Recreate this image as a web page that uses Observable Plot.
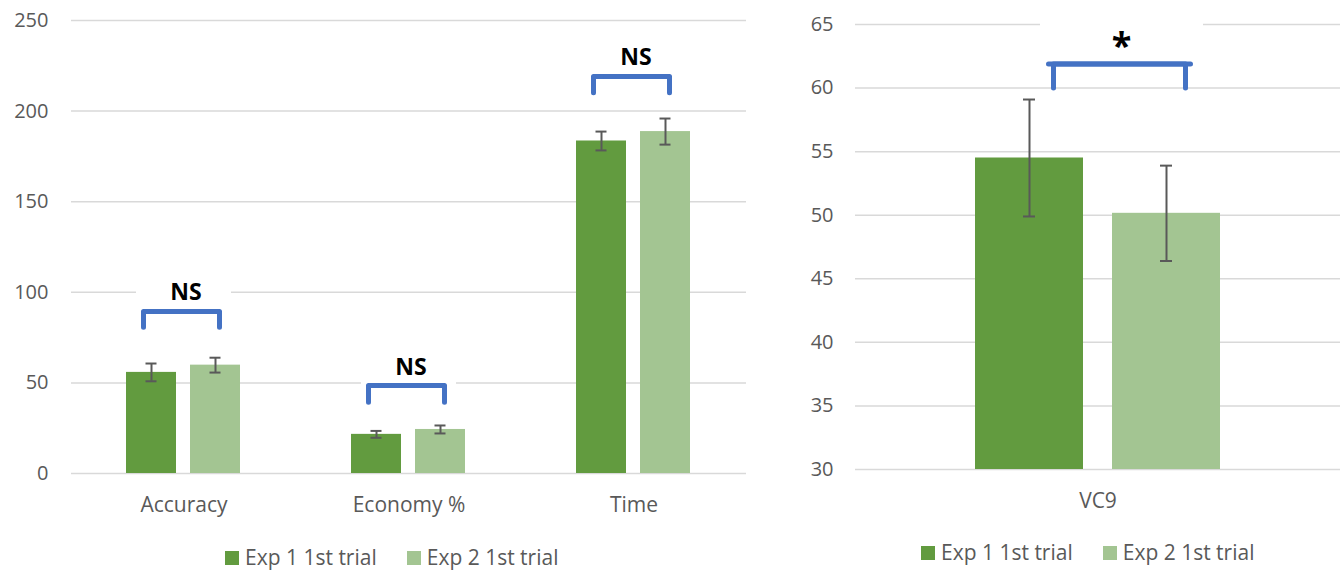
<!DOCTYPE html>
<html><head><meta charset="utf-8">
<script src="https://cdn.jsdelivr.net/npm/d3@7"></script>
<script src="https://cdn.jsdelivr.net/npm/@observablehq/plot@0.6"></script>
<style>
body{margin:0;background:#fff;font-family:"Open Sans",sans-serif;}
#root{position:relative;width:1344px;height:572px;overflow:hidden;background:#fff;}
.panel{position:absolute;top:0;}
.legend{position:absolute;display:flex;align-items:center;font-size:21px;line-height:21px;color:#595959;white-space:nowrap;font-family:"Open Sans",sans-serif;}
.legend .item{display:flex;align-items:center;margin-right:30px;}
.legend .sw{width:14px;height:14px;margin-right:6px;}
</style></head><body><div id="root"></div>
<script>
// ---------- data ----------
const series = ["Exp 1 1st trial", "Exp 2 1st trial"];
const seriesColors = ["#629B3F", "#A3C592"];

const leftCategories = ["Accuracy", "Economy %", "Time"];
const leftExp1 = [55.8, 21.6, 183.5];
const leftExp2 = [59.8, 24.3, 188.7];
const leftErr1 = [4.9, 1.9, 5.2];
const leftErr2 = [4.1, 2.2, 7.2];
const leftTicks = [0, 50, 100, 150, 200, 250];
const leftSigText = ["NS", "NS", "NS"];
const leftSigY = [99.6, 58.2, 229.3];
const leftBracketTop = [89.4, 48.6, 219.1];
const leftBracketBottom = [80.7, 39.3, 210.1];

const rightCategories = ["VC9"];
const rightExp1 = [54.5];
const rightExp2 = [50.15];
const rightErr1 = [4.6];
const rightErr2 = [3.75];
const rightTicks = [30, 35, 40, 45, 50, 55, 60, 65];
const rightSigText = ["*"];
const rightSigY = [63.3];
const rightBracketTop = [61.9];
const rightBracketBottom = [60.0];

// ---------- helpers ----------
function rowsOf(cats, v1, v2, e1, e2) {
  const out = [];
  cats.forEach((c, i) => {
    out.push({category: c, series: series[0], value: v1[i], err: e1[i]});
    out.push({category: c, series: series[1], value: v2[i], err: e2[i]});
  });
  return out;
}
function bracketHalves(cats, top, bottom) {
  const left = [], right = [];
  cats.forEach((c, i) => {
    left.push({category: c, series: series[0], y: bottom[i]});
    left.push({category: c, series: series[0], y: top[i]});
    left.push({category: c, series: series[1], y: top[i]});
    right.push({category: c, series: series[0], y: top[i]});
    right.push({category: c, series: series[1], y: top[i]});
    right.push({category: c, series: series[1], y: bottom[i]});
  });
  return {left, right};
}
function labelsOf(cats, texts, ys) {
  return cats.map((c, i) => ({category: c, text: texts[i], y: ys[i]}));
}

function panel(cfg) {
  const rows = rowsOf(cfg.cats, cfg.v1, cfg.v2, cfg.e1, cfg.e2);
  const br = bracketHalves(cfg.cats, cfg.bTop, cfg.bBottom);
  const labels = labelsOf(cfg.cats, cfg.sigText, cfg.sigY);
  const grey = "#595959";
  return Plot.plot({
    width: cfg.width, height: cfg.height,
    marginLeft: cfg.ml, marginRight: cfg.mr, marginTop: cfg.mt, marginBottom: cfg.mb,
    style: {fontFamily: "Open Sans, sans-serif", background: "transparent", overflow: "visible"},
    fx: {domain: cfg.cats, padding: 0, label: null},
    x: {domain: series, paddingInner: cfg.pi, paddingOuter: cfg.po, axis: null},
    y: {domain: cfg.yDomain, label: null},
    color: {domain: series, range: seriesColors},
    marks: [
      Plot.ruleY(cfg.ticks, {stroke: "#d9d9d9", strokeWidth: 1.5}),
      Plot.tickY(labels, {fx: "category", y: "y", stroke: "white", strokeWidth: 56,
        insetLeft: cfg.boxL, insetRight: cfg.boxR}),
      Plot.barY(rows, {fx: "category", x: "series", y1: cfg.yDomain[0], y2: "value", fill: "series"}),
      Plot.ruleX(rows, {fx: "category", x: "series", y1: d => d.value - d.err, y2: d => d.value + d.err,
        stroke: grey, strokeWidth: 2}),
      Plot.tickY(rows, {fx: "category", x: "series", y: d => d.value + d.err, stroke: grey, strokeWidth: 2,
        insetLeft: cfg.capInset, insetRight: cfg.capInset}),
      Plot.tickY(rows, {fx: "category", x: "series", y: d => d.value - d.err, stroke: grey, strokeWidth: 2,
        insetLeft: cfg.capInset, insetRight: cfg.capInset}),
      Plot.line(br.left, {fx: "category", x: "series", y: "y", z: "category", stroke: "#4472C4",
        strokeWidth: 5, strokeLinejoin: "round", dx: cfg.bdxL}),
      Plot.line(br.right, {fx: "category", x: "series", y: "y", z: "category", stroke: "#4472C4",
        strokeWidth: 5, strokeLinejoin: "round", dx: cfg.bdxR}),
      Plot.text(labels, {fx: "category", y: "y", text: "text", fill: "black", fontWeight: "bold",
        fontSize: cfg.sigSize, dx: cfg.sigDx, lineAnchor: "middle"}),
      Plot.axisY(cfg.ticks, {tickSize: 0, tickPadding: cfg.yPad, fontSize: 20, color: grey, label: null}),
      Plot.axisFx({anchor: "bottom", tickSize: 0, tickPadding: 24, fontSize: 21, color: grey, label: null})
    ]
  });
}

const root = document.getElementById("root");

function addPanel(el, left) {
  const wrap = document.createElement("div");
  wrap.className = "panel";
  wrap.style.left = left + "px";
  wrap.appendChild(el);
  root.appendChild(wrap);
}

addPanel(panel({
  cats: leftCategories, v1: leftExp1, v2: leftExp2, e1: leftErr1, e2: leftErr2,
  ticks: leftTicks, yDomain: [0, 250], sigText: leftSigText, sigY: leftSigY,
  bTop: leftBracketTop, bBottom: leftBracketBottom,
  width: 770, height: 525, ml: 70, mr: 23, mt: 20, mb: 52,
  pi: 0.215, po: 0.843, capInset: 19.5, boxL: 65, boxR: 65,
  bdxL: -8, bdxR: 4, sigSize: 23, sigDx: 2, yPad: 23
}), 0);

addPanel(panel({
  cats: rightCategories, v1: rightExp1, v2: rightExp2, e1: rightErr1, e2: rightErr2,
  ticks: rightTicks, yDomain: [30, 65], sigText: rightSigText, sigY: rightSigY,
  bTop: rightBracketTop, bBottom: rightBracketBottom,
  width: 564, height: 525, ml: 75, mr: 4, mt: 24, mb: 56,
  pi: 0.212, po: 0.876, capInset: 48, boxL: 185, boxR: 137,
  bdxL: 24, bdxR: 19, sigSize: 36, sigDx: 23.5, yPad: 22
}), 780);

function addLegend(left, top) {
  const lg = document.createElement("div");
  lg.className = "legend";
  lg.style.left = left + "px";
  lg.style.top = top + "px";
  series.forEach((s, i) => {
    const it = document.createElement("div");
    it.className = "item";
    const sw = document.createElement("span");
    sw.className = "sw";
    sw.style.background = seriesColors[i];
    const tx = document.createElement("span");
    tx.textContent = s;
    it.appendChild(sw); it.appendChild(tx);
    lg.appendChild(it);
  });
  root.appendChild(lg);
}
addLegend(225, 547);
addLegend(921, 542);
</script>
</body></html>
